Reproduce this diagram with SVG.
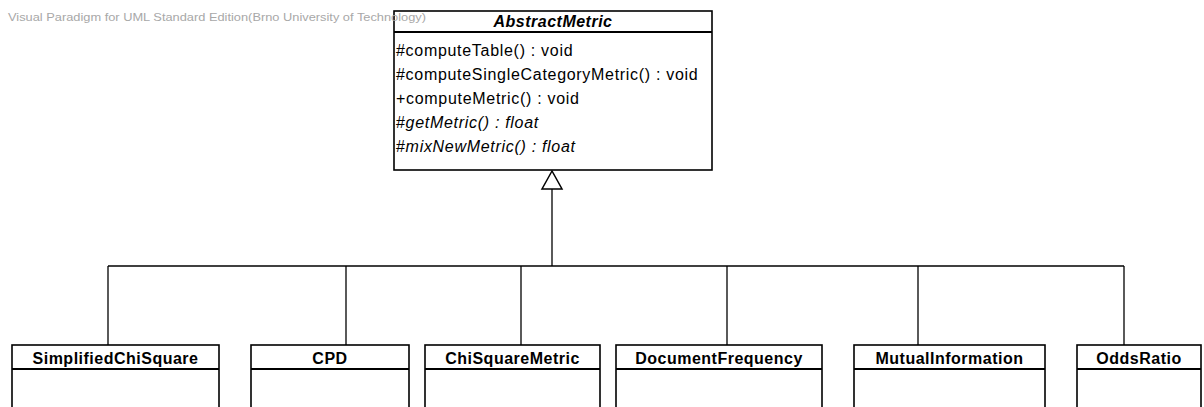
<svg xmlns="http://www.w3.org/2000/svg" width="1204" height="407" viewBox="0 0 1204 407">
  <style>
    .box { fill: #ffffff; stroke: #000000; stroke-width: 1.6; }
    .sep { stroke: #000000; stroke-width: 2; }
    .name { font-family: "Liberation Sans", Arial, sans-serif; font-size: 16px; font-weight: bold; fill: #000000; text-anchor: middle; letter-spacing: 0.5px; }
    .member { font-family: "Liberation Sans", Arial, sans-serif; font-size: 16px; fill: #000000; letter-spacing: 0.7px; }
    .it { font-style: italic; }
    .wire { fill: none; stroke: #000000; stroke-width: 1.3; }
    .watermark { font-family: "Liberation Sans", Arial, sans-serif; font-size: 11.5px; fill: #a8a8a8; }
  </style>

  <rect x="0" y="0" width="1204" height="407" fill="#ffffff"/>

  <!-- generalization connectors -->
  <g id="connectors">
    <path class="wire" d="M552,189 V266"/>
    <path class="wire" d="M108,266 H1124"/>
    <path class="wire" d="M108,266 V345"/>
    <path class="wire" d="M346,266 V345"/>
    <path class="wire" d="M521,266 V345"/>
    <path class="wire" d="M727,266 V345"/>
    <path class="wire" d="M918,266 V345"/>
    <path class="wire" d="M1124,266 V345"/>
    <polygon points="552,171 542,189 562,189" fill="#ffffff" stroke="#000000" stroke-width="1.5"/>
  </g>

  <!-- abstract base class -->
  <g id="AbstractMetric">
    <rect class="box" x="394" y="11" width="318" height="159"/>
    <line class="sep" x1="394" y1="32" x2="712" y2="32"/>
    <text class="name" x="553" y="27" font-style="italic">AbstractMetric</text>
    <text class="member" x="396" y="55.5">#computeTable() : void</text>
    <text class="member" x="396" y="79.5">#computeSingleCategoryMetric() : void</text>
    <text class="member" x="396" y="103.5">+computeMetric() : void</text>
    <text class="member" x="396" y="127.5">#<tspan class="it">getMetric() : float</tspan></text>
    <text class="member" x="396" y="151.5">#<tspan class="it">mixNewMetric() : float</tspan></text>
  </g>

  <!-- concrete metrics -->
  <g id="SimplifiedChiSquare">
    <rect class="box" x="12" y="345" width="207" height="70"/>
    <line class="sep" x1="12" y1="369" x2="219" y2="369"/>
    <text class="name" x="115.5" y="363.5">SimplifiedChiSquare</text>
  </g>
  <g id="CPD">
    <rect class="box" x="251" y="345" width="158" height="70"/>
    <line class="sep" x1="251" y1="369" x2="409" y2="369"/>
    <text class="name" x="330" y="363.5">CPD</text>
  </g>
  <g id="ChiSquareMetric">
    <rect class="box" x="425" y="345" width="175" height="70"/>
    <line class="sep" x1="425" y1="369" x2="600" y2="369"/>
    <text class="name" x="512.5" y="363.5">ChiSquareMetric</text>
  </g>
  <g id="DocumentFrequency">
    <rect class="box" x="616" y="345" width="206" height="70"/>
    <line class="sep" x1="616" y1="369" x2="822" y2="369"/>
    <text class="name" x="719" y="363.5">DocumentFrequency</text>
  </g>
  <g id="MutualInformation">
    <rect class="box" x="854" y="345" width="191" height="70"/>
    <line class="sep" x1="854" y1="369" x2="1045" y2="369"/>
    <text class="name" x="949.5" y="363.5">MutualInformation</text>
  </g>
  <g id="OddsRatio">
    <rect class="box" x="1077" y="345" width="124" height="70"/>
    <line class="sep" x1="1077" y1="369" x2="1201" y2="369"/>
    <text class="name" x="1139" y="363.5">OddsRatio</text>
  </g>

  <!-- edition stamp, painted last so it runs over the class frame -->
  <text class="watermark" x="8" y="21" textLength="418" lengthAdjust="spacingAndGlyphs">Visual Paradigm for UML Standard Edition(Brno University of Technology)</text>
</svg>
